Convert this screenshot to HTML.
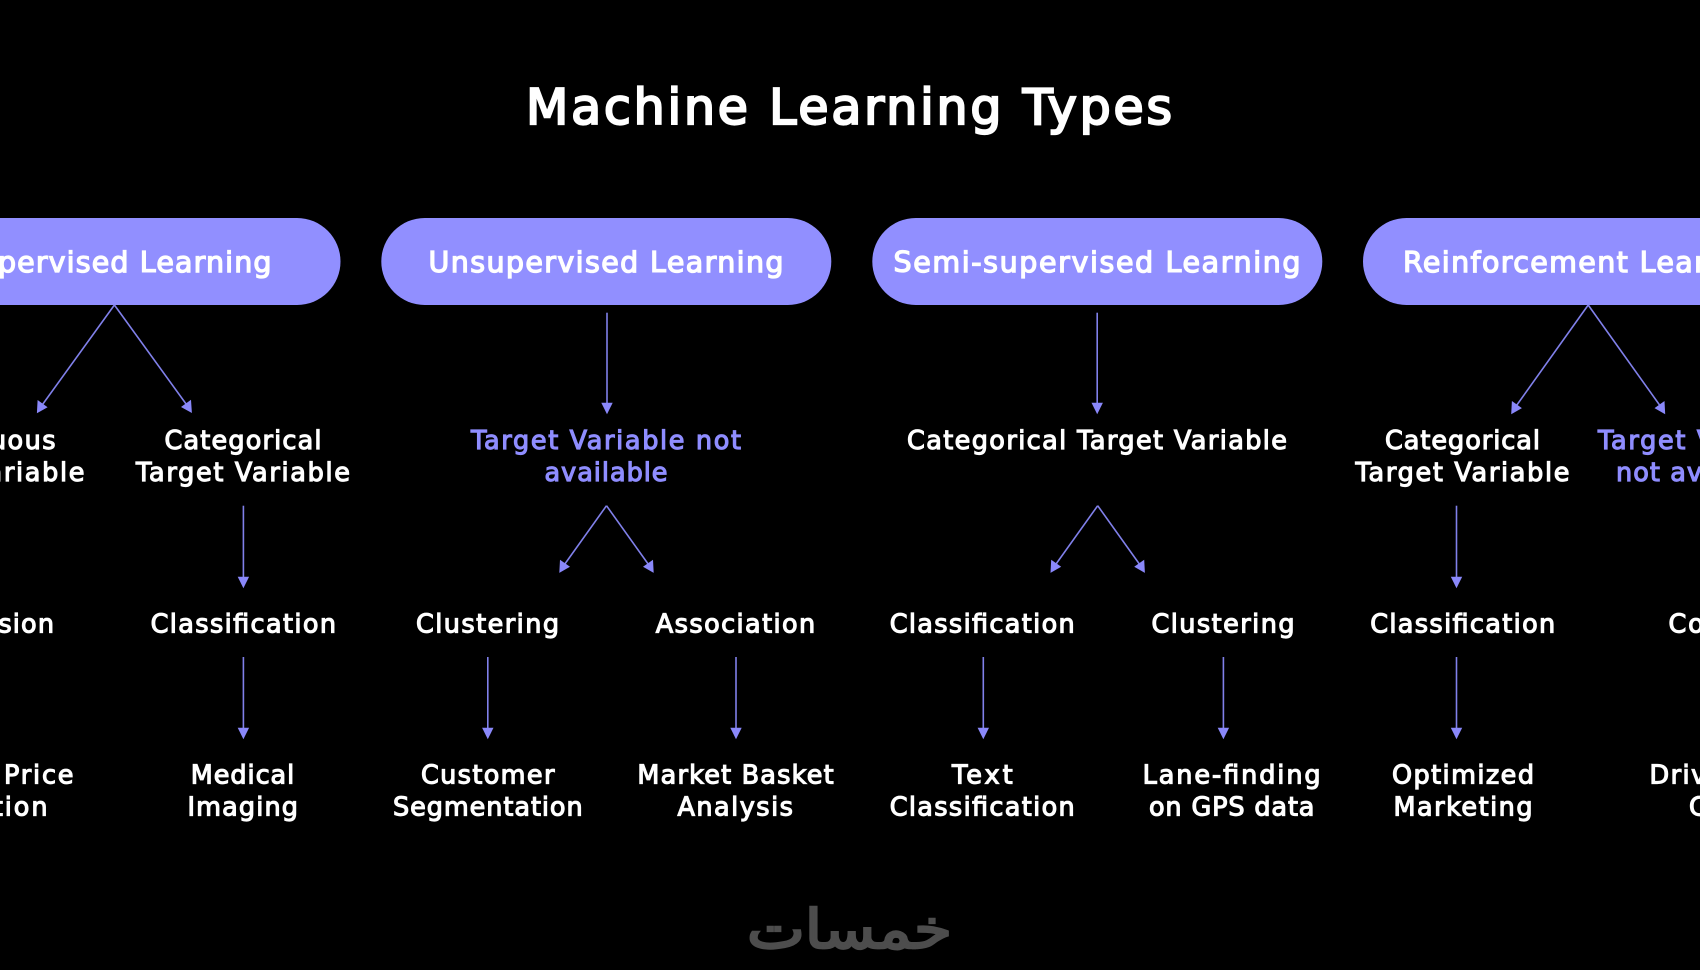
<!DOCTYPE html>
<html><head><meta charset="utf-8"><title>Machine Learning Types</title>
<style>
html,body{margin:0;padding:0;background:#000;width:1700px;height:970px;overflow:hidden}
svg{display:block}
text{font-family:"DejaVu Sans","Liberation Sans",sans-serif;text-anchor:middle}
.w{fill:#fff;stroke:#fff;stroke-width:1.15;font-size:25.5px}
.p{fill:#8f8dff;stroke:#8f8dff;stroke-width:1.15;font-size:25.5px}
.h{fill:#fff;stroke:#fff;stroke-width:1.3;font-size:28.5px}
.l{stroke:#8080ea;stroke-width:1.6;fill:none}
.a{fill:#8a88fa}
</style></head><body>
<svg width="1700" height="970" viewBox="0 0 1700 970" xmlns="http://www.w3.org/2000/svg">
<rect width="1700" height="970" fill="#000"/>
<text x="849" y="124" fill="#fff" stroke="#fff" stroke-width="2.2" font-size="49" textLength="646" lengthAdjust="spacing">Machine Learning Types</text>

<rect x="-109.5" y="218" width="450" height="87" rx="43.5" fill="#918fff"/>
<rect x="381.3" y="218" width="450" height="87" rx="43.5" fill="#918fff"/>
<rect x="872.3" y="218" width="450" height="87" rx="43.5" fill="#918fff"/>
<rect x="1363" y="218" width="450" height="87" rx="43.5" fill="#918fff"/>
<text class="h" x="115.5" y="272" textLength="312" lengthAdjust="spacing">Supervised Learning</text>
<text class="h" x="606" y="272" textLength="355" lengthAdjust="spacing">Unsupervised Learning</text>
<text class="h" x="1097" y="272" textLength="407" lengthAdjust="spacing">Semi-supervised Learning</text>
<text class="h" x="1588" y="272" textLength="370" lengthAdjust="spacing">Reinforcement Learning</text>

<text class="w" x="-23" y="449" textLength="157" lengthAdjust="spacing">Continuous</text>
<text class="w" x="-22.5" y="481" textLength="214" lengthAdjust="spacing">Target Variable</text>
<text class="w" x="243" y="449" textLength="157" lengthAdjust="spacing">Categorical</text>
<text class="w" x="243" y="481" textLength="214" lengthAdjust="spacing">Target Variable</text>
<text class="p" x="606" y="449" textLength="270" lengthAdjust="spacing">Target Variable not</text>
<text class="p" x="606" y="481" textLength="123" lengthAdjust="spacing">available</text>
<text class="w" x="1097" y="449" textLength="380" lengthAdjust="spacing">Categorical Target Variable</text>
<text class="w" x="1462.5" y="449" textLength="155" lengthAdjust="spacing">Categorical</text>
<text class="w" x="1462.5" y="481" textLength="214" lengthAdjust="spacing">Target Variable</text>
<text class="p" x="1705" y="449" textLength="214" lengthAdjust="spacing">Target Variable</text>
<text class="p" x="1705" y="481" textLength="178" lengthAdjust="spacing">not available</text>

<text class="w" x="-21" y="632.5" textLength="150" lengthAdjust="spacing">Regression</text>
<text class="w" x="243.3" y="632.5" textLength="185.4" lengthAdjust="spacing">Classification</text>
<text class="w" x="487.5" y="632.5" textLength="143" lengthAdjust="spacing">Clustering</text>
<text class="w" x="735.5" y="632.5" textLength="159.4" lengthAdjust="spacing">Association</text>
<text class="w" x="982.2" y="632.5" textLength="185" lengthAdjust="spacing">Classification</text>
<text class="w" x="1223" y="632.5" textLength="143" lengthAdjust="spacing">Clustering</text>
<text class="w" x="1462.7" y="632.5" textLength="185" lengthAdjust="spacing">Classification</text>
<text class="w" x="1720" y="632.5" textLength="103" lengthAdjust="spacing">Control</text>

<text class="w" x="-24.5" y="783.5" textLength="196" lengthAdjust="spacing">Housing Price</text>
<text class="w" x="-24.5" y="815.5" textLength="144" lengthAdjust="spacing">Prediction</text>
<text class="w" x="242.5" y="783.5" textLength="103.5" lengthAdjust="spacing">Medical</text>
<text class="w" x="242.7" y="815.5" textLength="110.5" lengthAdjust="spacing">Imaging</text>
<text class="w" x="487.7" y="783.5" textLength="133.5" lengthAdjust="spacing">Customer</text>
<text class="w" x="487.8" y="815.5" textLength="189.7" lengthAdjust="spacing">Segmentation</text>
<text class="w" x="735.5" y="783.5" textLength="196.2" lengthAdjust="spacing">Market Basket</text>
<text class="w" x="735.2" y="815.5" textLength="115.5" lengthAdjust="spacing">Analysis</text>
<text class="w" x="982.3" y="783.5" textLength="60.6" lengthAdjust="spacing">Text</text>
<text class="w" x="982.2" y="815.5" textLength="185" lengthAdjust="spacing">Classification</text>
<text class="w" x="1231.6" y="783.5" textLength="178" lengthAdjust="spacing">Lane-finding</text>
<text class="w" x="1231.7" y="815.5" textLength="165.5" lengthAdjust="spacing">on GPS data</text>
<text class="w" x="1463" y="783.5" textLength="142" lengthAdjust="spacing">Optimized</text>
<text class="w" x="1463" y="815.5" textLength="139" lengthAdjust="spacing">Marketing</text>
<text class="w" x="1720" y="783.5" textLength="141" lengthAdjust="spacing">Driverless</text>
<text class="w" x="1720" y="815.5" textLength="62" lengthAdjust="spacing">Cars</text>

<!-- connectors -->
<path class="l" d="M114.4 305L40 408M114.4 305L189 408"/>
<path class="a" d="M36.9 413.3L37.6 400L47.6 407.2ZM191.9 413L191 399.8L181 407Z"/>
<path class="l" d="M607 312.7V404"/><path class="a" d="M607 414.2L601.3 402.8H612.7Z"/>
<path class="l" d="M1097.2 312.7V404"/><path class="a" d="M1097.2 414.2L1091.5 402.8H1102.9Z"/>
<path class="l" d="M1588.2 305L1514 409M1588.2 305L1662.4 409"/>
<path class="a" d="M1511.2 414.2L1511.9 401L1521.9 408.1ZM1665.2 414.2L1664.5 401L1654.5 408.1Z"/>

<path class="l" d="M243.4 505.7V578"/><path class="a" d="M243.4 588.2L237.7 576.8H249.1Z"/>
<path class="l" d="M606.5 505.7L562 568M606.5 505.7L651 568"/>
<path class="a" d="M559.3 572.9L560 559.7L570 566.8ZM653.7 572.9L653 559.7L643 566.8Z"/>
<path class="l" d="M1097.7 505.7L1053.2 568M1097.7 505.7L1142.2 568"/>
<path class="a" d="M1050.5 572.9L1051.2 559.7L1061.2 566.8ZM1144.9 572.9L1144.2 559.7L1134.2 566.8Z"/>
<path class="l" d="M1456.5 505.7V578"/><path class="a" d="M1456.5 588.2L1450.8 576.8H1462.2Z"/>

<path class="l" d="M243.4 657V729"/><path class="a" d="M243.4 739.2L237.7 727.8H249.1Z"/>
<path class="l" d="M487.8 657V729"/><path class="a" d="M487.8 739.2L482.1 727.8H493.5Z"/>
<path class="l" d="M736 657V729"/><path class="a" d="M736 739.2L730.3 727.8H741.7Z"/>
<path class="l" d="M983.3 657V729"/><path class="a" d="M983.3 739.2L977.6 727.8H989Z"/>
<path class="l" d="M1223.4 657V729"/><path class="a" d="M1223.4 739.2L1217.7 727.8H1229.1Z"/>
<path class="l" d="M1456.5 657V729"/><path class="a" d="M1456.5 739.2L1450.8 727.8H1462.2Z"/>

<text x="849.5" y="948" fill="#4d4d4d" stroke="#4d4d4d" stroke-width="2.4" font-size="54" direction="rtl" style='font-family:"DejaVu Sans",sans-serif' textLength="205" lengthAdjust="spacingAndGlyphs">خمسات</text>
</svg>
</body></html>
